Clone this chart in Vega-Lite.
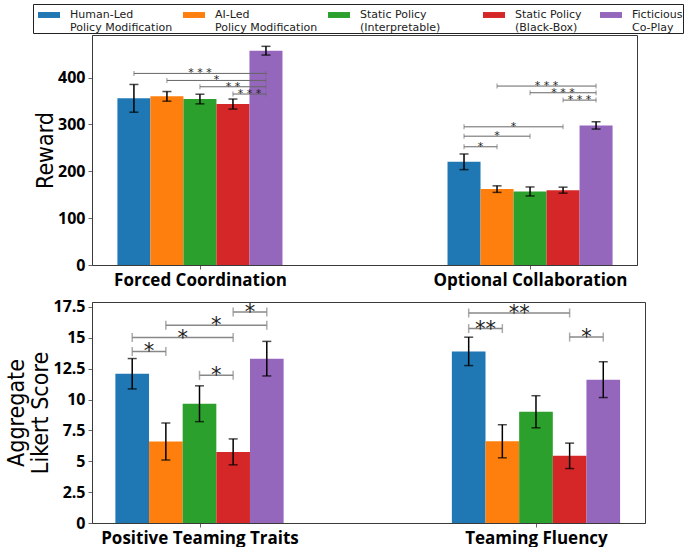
{
  "$schema": "https://vega.github.io/schema/vega-lite/v6.json",
  "padding": {"left": 5, "top": 3, "right": 0, "bottom": 0},
  "spacing": 9,
  "config": {
    "view": {"stroke": "#3a3a3a", "strokeWidth": 1},
    "axis": {"labelFont": "Open Sans", "labelFontWeight": "bold", "labelFontSize": 16, "labelColor": "#000", "tickColor": "#666", "tickSize": 4, "domainColor": "#3a3a3a", "grid": false, "titleFont": "DejaVu Sans Condensed, Roboto Condensed, Roboto", "titleFontWeight": "normal", "titleFontSize": 23, "titleColor": "#000", "labelPadding": 3, "titlePadding": 0, "labelLimit": 400, "labelOverlap": false},
    "axisX": {"labelFontSize": 17, "labelFlush": false},
    "axisY": {"titleLineHeight": 24}
  },
  "datasets": {
    "bars": [
      {"panel": "Reward", "group": "Forced Coordination", "series": "Human-Led|Policy Modification", "mean": 355.8, "sem": 29.6},
      {"panel": "Reward", "group": "Forced Coordination", "series": "AI-Led|Policy Modification", "mean": 360.0, "sem": 10.3},
      {"panel": "Reward", "group": "Forced Coordination", "series": "Static Policy|(Interpretable)\u2800\u2800\u2800\u2800", "mean": 354.3, "sem": 10.3},
      {"panel": "Reward", "group": "Forced Coordination", "series": "Static Policy\u2800|(Black-Box)", "mean": 343.6, "sem": 10.7},
      {"panel": "Reward", "group": "Forced Coordination", "series": "Ficticious|Co-Play", "mean": 457.5, "sem": 9.3},
      {"panel": "Reward", "group": "Optional Collaboration", "series": "Human-Led|Policy Modification", "mean": 220.3, "sem": 16.7},
      {"panel": "Reward", "group": "Optional Collaboration", "series": "AI-Led|Policy Modification", "mean": 162.0, "sem": 7.0},
      {"panel": "Reward", "group": "Optional Collaboration", "series": "Static Policy|(Interpretable)\u2800\u2800\u2800\u2800", "mean": 157.0, "sem": 9.6},
      {"panel": "Reward", "group": "Optional Collaboration", "series": "Static Policy\u2800|(Black-Box)", "mean": 159.8, "sem": 6.4},
      {"panel": "Reward", "group": "Optional Collaboration", "series": "Ficticious|Co-Play", "mean": 298.0, "sem": 7.8},
      {"panel": "Likert", "group": "Positive Teaming Traits", "series": "Human-Led|Policy Modification", "mean": 12.09, "sem": 1.23},
      {"panel": "Likert", "group": "Positive Teaming Traits", "series": "AI-Led|Policy Modification", "mean": 6.6, "sem": 1.5},
      {"panel": "Likert", "group": "Positive Teaming Traits", "series": "Static Policy|(Interpretable)\u2800\u2800\u2800\u2800", "mean": 9.66, "sem": 1.45},
      {"panel": "Likert", "group": "Positive Teaming Traits", "series": "Static Policy\u2800|(Black-Box)", "mean": 5.76, "sem": 1.05},
      {"panel": "Likert", "group": "Positive Teaming Traits", "series": "Ficticious|Co-Play", "mean": 13.31, "sem": 1.4},
      {"panel": "Likert", "group": "Teaming Fluency", "series": "Human-Led|Policy Modification", "mean": 13.9, "sem": 1.15},
      {"panel": "Likert", "group": "Teaming Fluency", "series": "AI-Led|Policy Modification", "mean": 6.62, "sem": 1.34},
      {"panel": "Likert", "group": "Teaming Fluency", "series": "Static Policy|(Interpretable)\u2800\u2800\u2800\u2800", "mean": 9.01, "sem": 1.3},
      {"panel": "Likert", "group": "Teaming Fluency", "series": "Static Policy\u2800|(Black-Box)", "mean": 5.44, "sem": 1.03},
      {"panel": "Likert", "group": "Teaming Fluency", "series": "Ficticious|Co-Play", "mean": 11.61, "sem": 1.45}
    ],
    "brackets": [
      {"panel": "Reward", "group": "Forced Coordination", "from": 0, "to": 4, "y": 409, "label": "* * *"},
      {"panel": "Reward", "group": "Forced Coordination", "from": 1, "to": 4, "y": 394, "label": "*"},
      {"panel": "Reward", "group": "Forced Coordination", "from": 2, "to": 4, "y": 380.5, "label": "* *"},
      {"panel": "Reward", "group": "Forced Coordination", "from": 3, "to": 4, "y": 365, "label": "* * *"},
      {"panel": "Reward", "group": "Optional Collaboration", "from": 1, "to": 4, "y": 382, "label": "* * *"},
      {"panel": "Reward", "group": "Optional Collaboration", "from": 2, "to": 4, "y": 367.7, "label": "* * *"},
      {"panel": "Reward", "group": "Optional Collaboration", "from": 3, "to": 4, "y": 352, "label": "* * *"},
      {"panel": "Reward", "group": "Optional Collaboration", "from": 0, "to": 3, "y": 295, "label": "*"},
      {"panel": "Reward", "group": "Optional Collaboration", "from": 0, "to": 2, "y": 275, "label": "*"},
      {"panel": "Reward", "group": "Optional Collaboration", "from": 0, "to": 1, "y": 252.4, "label": "*"},
      {"panel": "Likert", "group": "Positive Teaming Traits", "from": 3, "to": 4, "y": 17.09, "label": "*"},
      {"panel": "Likert", "group": "Positive Teaming Traits", "from": 1, "to": 4, "y": 16.01, "label": "*"},
      {"panel": "Likert", "group": "Positive Teaming Traits", "from": 0, "to": 3, "y": 15.02, "label": "*"},
      {"panel": "Likert", "group": "Positive Teaming Traits", "from": 0, "to": 1, "y": 13.9, "label": "*"},
      {"panel": "Likert", "group": "Positive Teaming Traits", "from": 2, "to": 3, "y": 11.96, "label": "*"},
      {"panel": "Likert", "group": "Teaming Fluency", "from": 0, "to": 3, "y": 17.01, "label": "**"},
      {"panel": "Likert", "group": "Teaming Fluency", "from": 0, "to": 1, "y": 15.75, "label": "**"},
      {"panel": "Likert", "group": "Teaming Fluency", "from": 3, "to": 4, "y": 15.06, "label": "*"}
    ]
  },
  "vconcat": [
    {
      "width": 545,
      "height": 230,
      "data": {"name": "bars"},
      "transform": [
        {"filter": "datum.panel == 'Reward'"},
        {"calculate": "indexof(['Forced Coordination','Optional Collaboration'], datum.group) + 0.1*(indexof(['Human-Led|Policy Modification','AI-Led|Policy Modification','Static Policy|(Interpretable)\u2800\u2800\u2800\u2800','Static Policy\u2800|(Black-Box)','Ficticious|Co-Play'], datum.series) - 2)", "as": "pos"},
        {"calculate": "datum.pos - 0.05", "as": "pos0"},
        {"calculate": "datum.pos + 0.05", "as": "pos1"},
        {"calculate": "datum.mean - datum.sem", "as": "lo"},
        {"calculate": "datum.mean + datum.sem", "as": "hi"}
      ],
      "layer": [
        {
          "mark": {"type": "rect"},
          "encoding": {
            "x": {"field": "pos0", "type": "quantitative", "scale": {"domain": [-0.327, 1.324], "nice": false, "zero": false}, "axis": {"title": null, "values": [0, 1], "labelExpr": "datum.value == 0 ? 'Forced Coordination' : 'Optional Collaboration'"}},
            "x2": {"field": "pos1"},
            "y": {"field": "mean", "type": "quantitative", "scale": {"domain": [0, 491], "nice": false}, "axis": {"title": "Reward", "values": [0, 100, 200, 300, 400], "labelOverlap": false}},
            "y2": {"datum": 0},
            "color": {"field": "series", "type": "nominal",
              "scale": {"domain": ["Human-Led|Policy Modification", "AI-Led|Policy Modification", "Static Policy|(Interpretable)\u2800\u2800\u2800\u2800", "Static Policy\u2800|(Black-Box)", "Ficticious|Co-Play"], "range": ["#1f77b4", "#ff7f0e", "#2ca02c", "#d62728", "#9467bd"]},
              "legend": {"orient": "none", "legendX": -59, "legendY": -31, "direction": "horizontal", "columns": 5, "title": null, "symbolType": "M-1,-0.27H1V0.27H-1Z", "symbolSize": 484, "symbolStrokeWidth": 0, "symbolOpacity": 1, "symbolOffset": 5, "labelFont": "DejaVu Sans", "labelFontSize": 11, "labelColor": "#222", "labelLimit": 0, "labelExpr": "split(datum.label, '|')", "labelOffset": 10, "columnPadding": 5, "padding": 0, "strokeColor": "#222"}}
          }
        },
        {
          "mark": {"type": "rule", "color": "#000", "strokeWidth": 1.5},
          "encoding": {
            "x": {"field": "pos", "type": "quantitative", "scale": {"domain": [-0.327, 1.324], "nice": false, "zero": false}, "axis": {"title": null, "values": [0, 1], "labelExpr": "datum.value == 0 ? 'Forced Coordination' : 'Optional Collaboration'"}},
            "y": {"field": "lo", "type": "quantitative", "scale": {"domain": [0, 491], "nice": false}, "axis": {"title": "Reward", "values": [0, 100, 200, 300, 400], "labelOverlap": false}},
            "y2": {"field": "hi"}
          }
        },
        {
          "mark": {"type": "tick", "orient": "horizontal", "size": 9, "thickness": 1.5, "color": "#000"},
          "encoding": {
            "x": {"field": "pos", "type": "quantitative", "scale": {"domain": [-0.327, 1.324], "nice": false, "zero": false}, "axis": {"title": null, "values": [0, 1], "labelExpr": "datum.value == 0 ? 'Forced Coordination' : 'Optional Collaboration'"}},
            "y": {"field": "lo", "type": "quantitative", "scale": {"domain": [0, 491], "nice": false}, "axis": {"title": "Reward", "values": [0, 100, 200, 300, 400], "labelOverlap": false}}
          }
        },
        {
          "mark": {"type": "tick", "orient": "horizontal", "size": 9, "thickness": 1.5, "color": "#000"},
          "encoding": {
            "x": {"field": "pos", "type": "quantitative", "scale": {"domain": [-0.327, 1.324], "nice": false, "zero": false}, "axis": {"title": null, "values": [0, 1], "labelExpr": "datum.value == 0 ? 'Forced Coordination' : 'Optional Collaboration'"}},
            "y": {"field": "hi", "type": "quantitative", "scale": {"domain": [0, 491], "nice": false}, "axis": {"title": "Reward", "values": [0, 100, 200, 300, 400], "labelOverlap": false}}
          }
        },
        {
          "data": {"name": "brackets"},
          "transform": [
            {"filter": "datum.panel == 'Reward'"},
            {"calculate": "indexof(['Forced Coordination','Optional Collaboration'], datum.group)", "as": "g"},
            {"calculate": "datum.g + 0.1*(datum.from - 2)", "as": "xa"},
            {"calculate": "datum.g + 0.1*(datum.to - 2)", "as": "xb"},
            {"calculate": "(datum.xa + datum.xb) / 2", "as": "xm"}
          ],
          "layer": [
            {
              "mark": {"type": "rule", "color": "#666", "strokeWidth": 1},
              "encoding": {
                "x": {"field": "xa", "type": "quantitative", "scale": {"domain": [-0.327, 1.324], "nice": false, "zero": false}, "axis": {"title": null, "values": [0, 1], "labelExpr": "datum.value == 0 ? 'Forced Coordination' : 'Optional Collaboration'"}},
                "x2": {"field": "xb"},
                "y": {"field": "y", "type": "quantitative", "scale": {"domain": [0, 491], "nice": false}, "axis": {"title": "Reward", "values": [0, 100, 200, 300, 400], "labelOverlap": false}}
              }
            },
            {
              "mark": {"type": "tick", "orient": "vertical", "size": 5, "thickness": 1, "color": "#666"},
              "encoding": {
                "x": {"field": "xa", "type": "quantitative", "scale": {"domain": [-0.327, 1.324], "nice": false, "zero": false}, "axis": {"title": null, "values": [0, 1], "labelExpr": "datum.value == 0 ? 'Forced Coordination' : 'Optional Collaboration'"}},
                "y": {"field": "y", "type": "quantitative", "scale": {"domain": [0, 491], "nice": false}, "axis": {"title": "Reward", "values": [0, 100, 200, 300, 400], "labelOverlap": false}}
              }
            },
            {
              "mark": {"type": "tick", "orient": "vertical", "size": 5, "thickness": 1, "color": "#666"},
              "encoding": {
                "x": {"field": "xb", "type": "quantitative", "scale": {"domain": [-0.327, 1.324], "nice": false, "zero": false}, "axis": {"title": null, "values": [0, 1], "labelExpr": "datum.value == 0 ? 'Forced Coordination' : 'Optional Collaboration'"}},
                "y": {"field": "y", "type": "quantitative", "scale": {"domain": [0, 491], "nice": false}, "axis": {"title": "Reward", "values": [0, 100, 200, 300, 400], "labelOverlap": false}}
              }
            },
            {
              "mark": {"type": "text", "font": "DejaVu Sans", "fontSize": 11, "color": "#222", "align": "center", "baseline": "alphabetic", "dy": 3},
              "encoding": {
                "x": {"field": "xm", "type": "quantitative", "scale": {"domain": [-0.327, 1.324], "nice": false, "zero": false}, "axis": {"title": null, "values": [0, 1], "labelExpr": "datum.value == 0 ? 'Forced Coordination' : 'Optional Collaboration'"}},
                "y": {"field": "y", "type": "quantitative", "scale": {"domain": [0, 491], "nice": false}, "axis": {"title": "Reward", "values": [0, 100, 200, 300, 400], "labelOverlap": false}},
                "text": {"field": "label"}
              }
            }
          ]
        }
      ]
    },
    {
      "width": 553,
      "height": 221,
      "data": {"name": "bars"},
      "transform": [
        {"filter": "datum.panel == 'Likert'"},
        {"calculate": "indexof(['Positive Teaming Traits','Teaming Fluency'], datum.group) + 0.1*(indexof(['Human-Led|Policy Modification','AI-Led|Policy Modification','Static Policy|(Interpretable)\u2800\u2800\u2800\u2800','Static Policy\u2800|(Black-Box)','Ficticious|Co-Play'], datum.series) - 2)", "as": "pos"},
        {"calculate": "datum.pos - 0.05", "as": "pos0"},
        {"calculate": "datum.pos + 0.05", "as": "pos1"},
        {"calculate": "datum.mean - datum.sem", "as": "lo"},
        {"calculate": "datum.mean + datum.sem", "as": "hi"}
      ],
      "layer": [
        {
          "mark": {"type": "rect"},
          "encoding": {
            "x": {"field": "pos0", "type": "quantitative", "scale": {"domain": [-0.3195, 1.324], "nice": false, "zero": false}, "axis": {"title": null, "values": [0, 1], "labelExpr": "datum.value == 0 ? 'Positive Teaming Traits' : 'Teaming Fluency'"}},
            "x2": {"field": "pos1"},
            "y": {"field": "mean", "type": "quantitative", "scale": {"domain": [0, 17.9], "nice": false}, "axis": {"title": ["Aggregate", "Likert Score"], "values": [0, 2.5, 5, 7.5, 10, 12.5, 15, 17.5], "format": ".3~g", "labelOverlap": false}},
            "y2": {"datum": 0},
            "color": {"field": "series", "type": "nominal", "legend": null}
          }
        },
        {
          "mark": {"type": "rule", "color": "#000", "strokeWidth": 1.5},
          "encoding": {
            "x": {"field": "pos", "type": "quantitative", "scale": {"domain": [-0.3195, 1.324], "nice": false, "zero": false}, "axis": {"title": null, "values": [0, 1], "labelExpr": "datum.value == 0 ? 'Positive Teaming Traits' : 'Teaming Fluency'"}},
            "y": {"field": "lo", "type": "quantitative", "scale": {"domain": [0, 17.9], "nice": false}, "axis": {"title": ["Aggregate", "Likert Score"], "values": [0, 2.5, 5, 7.5, 10, 12.5, 15, 17.5], "format": ".3~g", "labelOverlap": false}},
            "y2": {"field": "hi"}
          }
        },
        {
          "mark": {"type": "tick", "orient": "horizontal", "size": 9, "thickness": 1.5, "color": "#000"},
          "encoding": {
            "x": {"field": "pos", "type": "quantitative", "scale": {"domain": [-0.3195, 1.324], "nice": false, "zero": false}, "axis": {"title": null, "values": [0, 1], "labelExpr": "datum.value == 0 ? 'Positive Teaming Traits' : 'Teaming Fluency'"}},
            "y": {"field": "lo", "type": "quantitative", "scale": {"domain": [0, 17.9], "nice": false}, "axis": {"title": ["Aggregate", "Likert Score"], "values": [0, 2.5, 5, 7.5, 10, 12.5, 15, 17.5], "format": ".3~g", "labelOverlap": false}}
          }
        },
        {
          "mark": {"type": "tick", "orient": "horizontal", "size": 9, "thickness": 1.5, "color": "#000"},
          "encoding": {
            "x": {"field": "pos", "type": "quantitative", "scale": {"domain": [-0.3195, 1.324], "nice": false, "zero": false}, "axis": {"title": null, "values": [0, 1], "labelExpr": "datum.value == 0 ? 'Positive Teaming Traits' : 'Teaming Fluency'"}},
            "y": {"field": "hi", "type": "quantitative", "scale": {"domain": [0, 17.9], "nice": false}, "axis": {"title": ["Aggregate", "Likert Score"], "values": [0, 2.5, 5, 7.5, 10, 12.5, 15, 17.5], "format": ".3~g", "labelOverlap": false}}
          }
        },
        {
          "data": {"name": "brackets"},
          "transform": [
            {"filter": "datum.panel == 'Likert'"},
            {"calculate": "indexof(['Positive Teaming Traits','Teaming Fluency'], datum.group)", "as": "g"},
            {"calculate": "datum.g + 0.1*(datum.from - 2)", "as": "xa"},
            {"calculate": "datum.g + 0.1*(datum.to - 2)", "as": "xb"},
            {"calculate": "(datum.xa + datum.xb) / 2", "as": "xm"}
          ],
          "layer": [
            {
              "mark": {"type": "rule", "color": "#888", "strokeWidth": 1.5},
              "encoding": {
                "x": {"field": "xa", "type": "quantitative", "scale": {"domain": [-0.3195, 1.324], "nice": false, "zero": false}, "axis": {"title": null, "values": [0, 1], "labelExpr": "datum.value == 0 ? 'Positive Teaming Traits' : 'Teaming Fluency'"}},
                "x2": {"field": "xb"},
                "y": {"field": "y", "type": "quantitative", "scale": {"domain": [0, 17.9], "nice": false}, "axis": {"title": ["Aggregate", "Likert Score"], "values": [0, 2.5, 5, 7.5, 10, 12.5, 15, 17.5], "format": ".3~g", "labelOverlap": false}}
              }
            },
            {
              "mark": {"type": "tick", "orient": "vertical", "size": 9, "thickness": 1.5, "color": "#888"},
              "encoding": {
                "x": {"field": "xa", "type": "quantitative", "scale": {"domain": [-0.3195, 1.324], "nice": false, "zero": false}, "axis": {"title": null, "values": [0, 1], "labelExpr": "datum.value == 0 ? 'Positive Teaming Traits' : 'Teaming Fluency'"}},
                "y": {"field": "y", "type": "quantitative", "scale": {"domain": [0, 17.9], "nice": false}, "axis": {"title": ["Aggregate", "Likert Score"], "values": [0, 2.5, 5, 7.5, 10, 12.5, 15, 17.5], "format": ".3~g", "labelOverlap": false}}
              }
            },
            {
              "mark": {"type": "tick", "orient": "vertical", "size": 9, "thickness": 1.5, "color": "#888"},
              "encoding": {
                "x": {"field": "xb", "type": "quantitative", "scale": {"domain": [-0.3195, 1.324], "nice": false, "zero": false}, "axis": {"title": null, "values": [0, 1], "labelExpr": "datum.value == 0 ? 'Positive Teaming Traits' : 'Teaming Fluency'"}},
                "y": {"field": "y", "type": "quantitative", "scale": {"domain": [0, 17.9], "nice": false}, "axis": {"title": ["Aggregate", "Likert Score"], "values": [0, 2.5, 5, 7.5, 10, 12.5, 15, 17.5], "format": ".3~g", "labelOverlap": false}}
              }
            },
            {
              "mark": {"type": "text", "font": "DejaVu Sans", "fontSize": 21, "color": "#222", "align": "center", "baseline": "alphabetic", "dy": 7},
              "encoding": {
                "x": {"field": "xm", "type": "quantitative", "scale": {"domain": [-0.3195, 1.324], "nice": false, "zero": false}, "axis": {"title": null, "values": [0, 1], "labelExpr": "datum.value == 0 ? 'Positive Teaming Traits' : 'Teaming Fluency'"}},
                "y": {"field": "y", "type": "quantitative", "scale": {"domain": [0, 17.9], "nice": false}, "axis": {"title": ["Aggregate", "Likert Score"], "values": [0, 2.5, 5, 7.5, 10, 12.5, 15, 17.5], "format": ".3~g", "labelOverlap": false}},
                "text": {"field": "label"}
              }
            }
          ]
        }
      ]
    }
  ],
  "resolve": {"scale": {"color": "shared"}}
}
